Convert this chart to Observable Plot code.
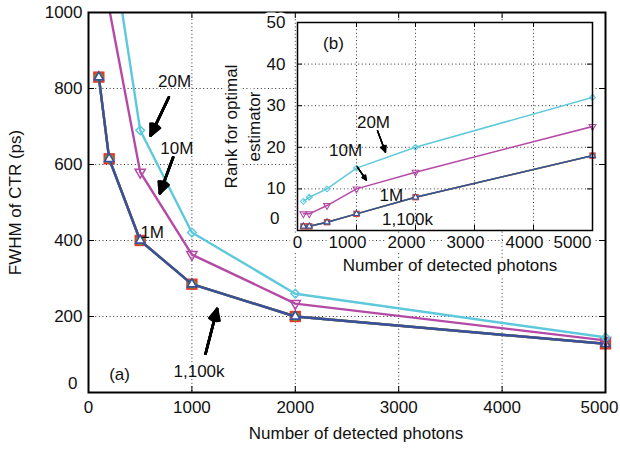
<!DOCTYPE html>
<html><head><meta charset="utf-8">
<script src="https://cdn.jsdelivr.net/npm/d3@7"></script>
<script src="https://cdn.jsdelivr.net/npm/@observablehq/plot@0.6"></script>
<style>
body{margin:0;background:#fff;}
#wrap{position:relative;width:620px;height:452px;}
#main svg{display:block;width:620px;height:452px;max-width:none;}
#inset{position:absolute;left:215px;top:15px;width:385px;height:270px;}
#inset svg{display:block;width:385px;height:270px;max-width:none;}
</style></head><body><div id="wrap"><div id="main"></div><div id="inset"></div></div>
<script>
// ---- data ----
const photons = [100, 200, 500, 1000, 2000, 5000];
const fwhm_1    = [830, 615, 400, 285, 200, 128];
const fwhm_100k = [830, 615, 400, 285, 200, 128];
const fwhm_1M   = [830, 615, 400, 285, 200, 128];
const fwhm_10M  = [1350, 1010, 580, 363, 234, 137];
const fwhm_20M  = [1550, 1225, 690, 421, 260, 145];
const rank_1    = [1, 1, 2, 4, 8, 18];
const rank_100k = [1, 1, 2, 4, 8, 18];
const rank_1M   = [1, 1, 2, 4, 8, 18];
const rank_10M  = [4, 4, 6, 10, 14, 25];
const rank_20M  = [7, 8, 10, 15, 20, 32];
const mainXTicks = [0, 1000, 2000, 3000, 4000, 5000];
const mainYTicks = [0, 200, 400, 600, 800, 1000];
const insetXTicks = [0, 1000, 2000, 3000, 4000, 5000];
const insetYTicks = [0, 10, 20, 30, 40, 50];
const mainXTitle = "Number of detected photons";
const mainYTitle = "FWHM of CTR (ps)";
const insetXTitle = "Number of detected photons";
const insetYTitle = "Rank for optimal\nestimator";
const mainNotes = [
  {t: "20M", x: 832, y: 818}, {t: "10M", x: 854, y: 643}, {t: "1M", x: 616, y: 422},
  {t: "(a)", x: 300, y: 47}, {t: "1,100k", x: 1069, y: 55}
];
const mainArrows = [
  {x1: 777, y1: 777, x2: 600, y2: 676},
  {x1: 819, y1: 619, x2: 690, y2: 524},
  {x1: 1132, y1: 102, x2: 1244, y2: 220}
];
const insetNotes = [
  {t: "(b)", x: 610, y: 45}, {t: "20M", x: 1288, y: 26}, {t: "10M", x: 814, y: 19.2},
  {t: "1M", x: 1590, y: 8.4}, {t: "1,100k", x: 1864, y: 2.6}
];
const insetArrows = [
  {x1: 1356, y1: 24.0, x2: 1492, y2: 18.8},
  {x1: 1017, y1: 15.2, x2: 1169, y2: 12.1}
];

// ---- styling ----
const FONT = "'Liberation Sans', Arial, Helvetica, sans-serif";
const FS = 17;
const RED = "#e5372a", GREEN = "#56a331", BLUE = "#38509e", MAGENTA = "#b44aa5", CYAN = "#5ec9dc";
const triDown = {draw(ctx, size) {
  const y = -Math.sqrt(size / (Math.sqrt(3) * 3));
  ctx.moveTo(0, -y * 2);
  ctx.lineTo(-Math.sqrt(3) * y, y);
  ctx.lineTo(Math.sqrt(3) * y, y);
  ctx.closePath();
}};
const rows = (vals) => photons.map((p, i) => ({p, v: vals[i]}));
const str = d => String(d);

function seriesMarks(defs, lineW, ymax) {
  const out = [];
  for (const d of defs) {
    out.push(Plot.line(rows(d.vals), {x: "p", y: "v", stroke: d.color, strokeWidth: lineW, clip: true}));
    out.push(Plot.dot(rows(d.vals), {x: "p", y: "v", filter: r => r.v <= ymax, symbol: d.symbol, r: d.r,
      fill: d.fill, stroke: d.stroke, strokeWidth: d.sw}));
  }
  return out;
}
function arrowMarks(data, sw, hl) {
  return [52, 36, 20, 6].map(a => Plot.arrow(data, {x1: "x1", y1: "y1", x2: "x2", y2: "y2",
    stroke: "black", strokeWidth: sw, headAngle: a, headLength: hl}));
}
const gridStyle = {stroke: "#333", strokeOpacity: 1, strokeWidth: 1, strokeDasharray: "1,2.6"};

// ---- main chart ----
const mainDefs = [
  {vals: fwhm_1, color: RED, symbol: "square", r: 6.4, fill: RED, stroke: "none", sw: 0},
  {vals: fwhm_100k, color: GREEN, symbol: "circle", r: 4.6, fill: GREEN, stroke: "none", sw: 0},
  {vals: fwhm_1M, color: BLUE, symbol: "triangle", r: 3.4, fill: "white", stroke: BLUE, sw: 1.6},
  {vals: fwhm_10M, color: MAGENTA, symbol: triDown, r: 3.8, fill: "none", stroke: MAGENTA, sw: 1.5},
  {vals: fwhm_20M, color: CYAN, symbol: "diamond2", r: 3.9, fill: "none", stroke: CYAN, sw: 1.5}
];
const W = 620, H = 452, mL = 88, mR = 15, mT = 12, mB = 60;
const fw = W - mL - mR, fh = H - mT - mB;
const txt = {fontSize: FS, fill: "#111"};
const main = Plot.plot({
  width: W, height: H, marginLeft: mL, marginRight: mR, marginTop: mT, marginBottom: mB,
  style: {fontFamily: FONT, fontSize: FS + "px", background: "white", overflow: "visible"},
  x: {domain: [0, 5000], axis: null},
  y: {domain: [0, 1000], axis: null},
  marks: [
    Plot.gridX(mainXTicks.slice(1, -1), gridStyle),
    Plot.gridY(mainYTicks.slice(1, -1), gridStyle),
    Plot.tickX(mainXTicks, {x: d => d, insetBottom: fh - 6, stroke: "black"}),
    Plot.tickX(mainXTicks, {x: d => d, insetTop: fh - 6, stroke: "black"}),
    Plot.tickY(mainYTicks, {y: d => d, insetRight: fw - 6, stroke: "black"}),
    Plot.tickY(mainYTicks, {y: d => d, insetLeft: fw - 6, stroke: "black"}),
    ...seriesMarks(mainDefs, 2.4, 1000),
    Plot.text(mainXTicks.slice(0, -1), {x: d => d, text: str, frameAnchor: "bottom", textAnchor: "middle", dy: 20, ...txt}),
    Plot.text(mainXTicks.slice(-1), {x: d => d, text: str, frameAnchor: "bottom", textAnchor: "middle", dy: 20, dx: -6, ...txt}),
    Plot.text(mainYTicks.filter(d => d !== 0), {y: d => d, text: str, frameAnchor: "left", textAnchor: "end", dx: -6, ...txt}),
    Plot.text(mainYTicks.filter(d => d === 0), {y: d => d, text: str, frameAnchor: "left", textAnchor: "end", dx: -11, dy: -9, ...txt}),
    Plot.text([mainXTitle], {frameAnchor: "bottom", textAnchor: "middle", dy: 46, dx: 9, ...txt}),
    Plot.text([mainYTitle], {frameAnchor: "left", textAnchor: "middle", rotate: -90, dx: -73, ...txt}),
    Plot.text(mainNotes, {x: "x", y: "y", text: "t", ...txt}),
    ...arrowMarks(mainArrows, 2.6, 7),
    Plot.frame({stroke: "black", strokeWidth: 2})
  ]
});
document.getElementById("main").appendChild(main);

// ---- inset chart ----
const insetDefs = [
  {vals: rank_1, color: RED, symbol: "square", r: 3.6, fill: RED, stroke: "none", sw: 0},
  {vals: rank_100k, color: GREEN, symbol: "circle", r: 2.5, fill: GREEN, stroke: "none", sw: 0},
  {vals: rank_1M, color: BLUE, symbol: "triangle", r: 2.2, fill: "white", stroke: BLUE, sw: 1.1},
  {vals: rank_10M, color: MAGENTA, symbol: triDown, r: 2.5, fill: "none", stroke: MAGENTA, sw: 1.1},
  {vals: rank_20M, color: CYAN, symbol: "diamond2", r: 2.6, fill: "none", stroke: CYAN, sw: 1.1}
];
const iW = 385, iH = 270, iL = 82, iR = 8, iT = 7, iB = 55;
const ifw = iW - iL - iR, ifh = iH - iT - iB;
const halo = {stroke: "white", strokeWidth: 7, fontSize: FS, fill: "#111"};
const inset = Plot.plot({
  width: iW, height: iH, marginLeft: iL, marginRight: iR, marginTop: iT, marginBottom: iB,
  style: {fontFamily: FONT, fontSize: FS + "px", background: "transparent", overflow: "visible"},
  x: {domain: [0, 5000], axis: null},
  y: {domain: [0, 50], axis: null},
  marks: [
    Plot.frame({fill: "white", stroke: null}),
    Plot.gridX(insetXTicks.slice(1, -1), gridStyle),
    Plot.gridY(insetYTicks.slice(1, -1), gridStyle),
    Plot.tickX(insetXTicks, {x: d => d, insetBottom: ifh - 5, stroke: "black"}),
    Plot.tickX(insetXTicks, {x: d => d, insetTop: ifh - 5, stroke: "black"}),
    Plot.tickY(insetYTicks, {y: d => d, insetRight: ifw - 5, stroke: "black"}),
    Plot.tickY(insetYTicks, {y: d => d, insetLeft: ifw - 5, stroke: "black"}),
    ...seriesMarks(insetDefs, 1.5, 50),
    Plot.text(insetXTicks.filter(d => d !== 0 && d !== 5000), {x: d => d, text: str, frameAnchor: "bottom", textAnchor: "middle", dy: 17, dx: -9, ...halo}),
    Plot.text(insetXTicks.filter(d => d === 0), {x: d => d, text: str, frameAnchor: "bottom", textAnchor: "middle", dy: 17, ...halo}),
    Plot.text(insetXTicks.filter(d => d === 5000), {x: d => d, text: str, frameAnchor: "bottom", textAnchor: "middle", dy: 17, dx: -20, ...halo}),
    Plot.text(insetYTicks.filter(d => d !== 0), {y: d => d, text: str, frameAnchor: "left", textAnchor: "end", dx: -12, ...halo}),
    Plot.text(insetYTicks.filter(d => d === 0), {y: d => d, text: str, frameAnchor: "left", textAnchor: "end", dx: -18, dy: -12, ...halo}),
    Plot.text([insetXTitle], {frameAnchor: "bottom", textAnchor: "middle", dy: 40, dx: 5, ...halo}),
    Plot.text([insetYTitle], {frameAnchor: "left", textAnchor: "middle", rotate: -90, dx: -56, lineHeight: 1.35, ...halo}),
    Plot.text(insetNotes, {x: "x", y: "y", text: "t", fontSize: FS, fill: "#111"}),
    ...arrowMarks(insetArrows, 1.3, 8),
    Plot.frame({stroke: "black", strokeWidth: 1.5})
  ]
});
document.getElementById("inset").appendChild(inset);
</script>
</body></html>
